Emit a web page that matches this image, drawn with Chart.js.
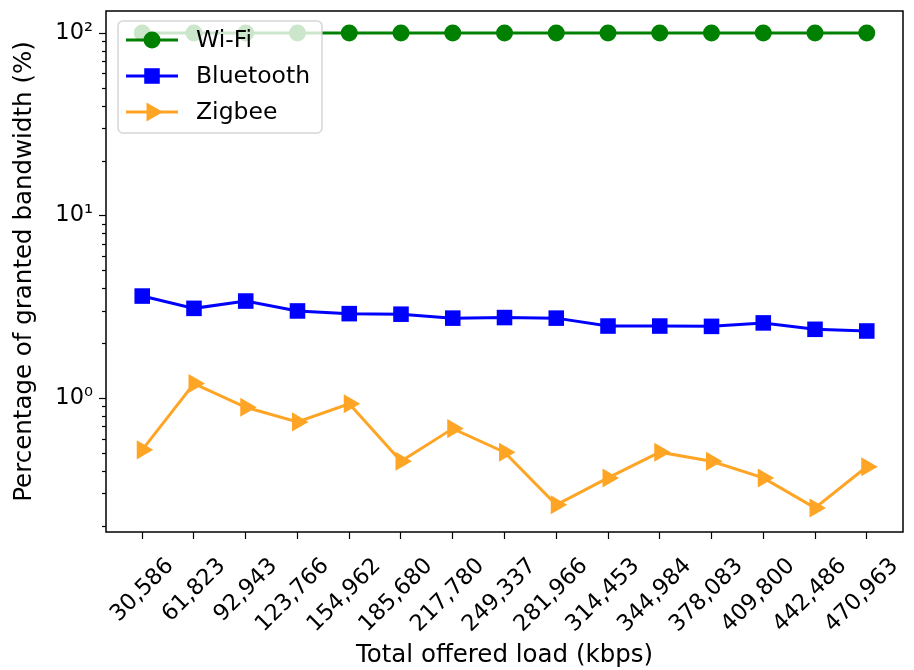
<!DOCTYPE html>
<html>
<head>
<meta charset="utf-8">
<script src="https://cdn.jsdelivr.net/npm/chart.js@4.4.0/dist/chart.umd.min.js"></script>
<style>
  html, body { margin: 0; padding: 0; background: #fff; }
</style>
</head>
<body>
<canvas id="chart" width="914" height="670"></canvas>
<script>
// data
var loadLabels = ['30,586', '61,823', '92,943', '123,766', '154,962', '185,680', '217,780', '249,337',
                  '281,966', '314,453', '344,984', '378,083', '409,800', '442,486', '470,963'];
var wifiValues = [100, 100, 100, 100, 100, 100, 100, 100, 100, 100, 100, 100, 100, 100, 100];
var bluetoothValues = [3.62, 3.1, 3.4, 3.0, 2.9, 2.88, 2.74, 2.76, 2.74, 2.48, 2.48, 2.47, 2.58, 2.38, 2.33];
var zigbeeValues = [0.52, 1.2, 0.89, 0.74, 0.93, 0.45, 0.68, 0.505, 0.26, 0.365, 0.505, 0.45, 0.365, 0.25, 0.42];
var seriesNames = ['Wi-Fi', 'Bluetooth', 'Zigbee'];
var yTickLabels = { 1: '10\u2070', 10: '10\u00b9', 100: '10\u00b2' };

var FONT = 'DejaVu Sans';
Chart.defaults.font.family = FONT;
Chart.defaults.font.size = 22;
Chart.defaults.color = '#000';

function toPoints(arr) {
    return arr.map(function (v, i) { return { x: i, y: v }; });
}

function isDecade(v) {
    var l = Math.log10(v);
    return Math.abs(l - Math.round(l)) < 1e-9;
}

var styles = [
    { color: '#008000', pointStyle: 'circle', radius: 8.5, rotation: 0 },
    { color: '#0000ff', pointStyle: 'rect', radius: 11, rotation: 0 },
    { color: '#ffa526', pointStyle: 'triangle', radius: 11, rotation: 90 }
];
var seriesValues = [wifiValues, bluetoothValues, zigbeeValues];

var datasets = seriesNames.map(function (name, i) {
    var s = styles[i];
    return {
        label: name,
        data: toPoints(seriesValues[i]),
        borderColor: s.color,
        backgroundColor: s.color,
        borderWidth: 3,
        pointStyle: s.pointStyle,
        pointRadius: s.radius,
        pointRotation: s.rotation,
        pointBackgroundColor: s.color,
        pointBorderColor: s.color,
        pointBorderWidth: 0,
        pointHoverRadius: s.radius,
        order: 3 - i,
        tension: 0
    };
});

// frame, minor ticks and the legend box inside the axes
var framePlugin = {
    id: 'frameAndLegend',
    afterDraw: function (chart) {
        var ctx = chart.ctx;
        var a = chart.chartArea;
        var ys = chart.scales.y;
        ctx.save();

        // minor ticks on log axis
        ctx.strokeStyle = '#000';
        ctx.lineWidth = 1.2;
        ys.ticks.forEach(function (t) {
            if (isDecade(t.value)) return;
            var py = Math.round(ys.getPixelForValue(t.value)) + 0.5;
            ctx.beginPath();
            ctx.moveTo(a.left - 4, py);
            ctx.lineTo(a.left, py);
            ctx.stroke();
        });

        // axes frame
        ctx.lineWidth = 1.5;
        ctx.strokeRect(a.left, a.top, a.right - a.left, a.bottom - a.top);

        // legend
        var lx = a.left + 12, ly = a.top + 10, lw = 204, lh = 112;
        ctx.beginPath();
        ctx.roundRect(lx, ly, lw, lh, 5);
        ctx.fillStyle = 'rgba(255,255,255,0.8)';
        ctx.fill();
        ctx.strokeStyle = 'rgba(204,204,204,0.8)';
        ctx.lineWidth = 1.5;
        ctx.stroke();

        ctx.font = '23.5px "' + FONT + '"';
        ctx.textBaseline = 'middle';
        ctx.textAlign = 'left';
        seriesNames.forEach(function (name, i) {
            var s = styles[i];
            var cy = ly + 19 + i * 36;
            ctx.strokeStyle = s.color;
            ctx.lineWidth = 3;
            ctx.beginPath();
            ctx.moveTo(lx + 8, cy);
            ctx.lineTo(lx + 60, cy);
            ctx.stroke();
            ctx.fillStyle = s.color;
            Chart.helpers.drawPoint(ctx, {
                pointStyle: s.pointStyle, radius: s.radius, rotation: s.rotation, borderWidth: 0
            }, lx + 34, cy);
            ctx.fillStyle = '#000';
            ctx.fillText(name, lx + 78, cy + 1);
        });
        ctx.restore();
    }
};

var chart = new Chart(document.getElementById('chart'), {
    type: 'line',
    data: { datasets: datasets },
    options: {
        responsive: false,
        animation: false,
        events: [],
        layout: { padding: { left: 0, top: 11, right: 5, bottom: 0 } },
        plugins: { legend: { display: false }, tooltip: { enabled: false } },
        scales: {
            x: {
                type: 'linear',
                min: -0.7,
                max: 14.7,
                afterBuildTicks: function (axis) {
                    axis.ticks = loadLabels.map(function (l, i) { return { value: i }; });
                },
                afterFit: function (axis) {
                    axis.height = 138;
                    axis.paddingLeft = 0;
                    axis.paddingRight = 0;
                },
                grid: { display: true, drawOnChartArea: false, tickLength: 7, tickColor: '#000', tickWidth: 1.2 },
                border: { display: false },
                ticks: {
                    autoSkip: false,
                    minRotation: 45,
                    maxRotation: 45,
                    labelOffset: 28,
                    padding: 14,
                    font: { size: 22.5 },
                    callback: function (v) { return loadLabels[v]; }
                },
                title: {
                    display: true,
                    text: 'Total offered load (kbps)',
                    font: { size: 24.5 },
                    padding: { top: 0, bottom: 0 }
                }
            },
            y: {
                type: 'logarithmic',
                min: 0.1845,
                max: 132,
                afterBuildTicks: function (axis) {
                    var t = [];
                    for (var d = -1; d <= 2; d++) {
                        for (var m = 1; m <= 9; m++) {
                            var v = m * Math.pow(10, d);
                            if (v >= axis.min && v <= axis.max) t.push({ value: v });
                        }
                    }
                    axis.ticks = t;
                },
                afterFit: function (axis) {
                    axis.width = 106;
                    axis.paddingTop = 0;
                    axis.paddingBottom = 0;
                },
                grid: {
                    display: true, drawOnChartArea: false, tickLength: 7, tickWidth: 1.2,
                    tickColor: function (c) { return c.tick && isDecade(c.tick.value) ? '#000' : 'rgba(0,0,0,0)'; }
                },
                border: { display: false },
                ticks: {
                    autoSkip: false,
                    padding: 6,
                    font: { size: 22.5 },
                    callback: function (v) {
                        for (var k in yTickLabels) {
                            if (Math.abs(v - Number(k)) < 1e-9) return yTickLabels[k];
                        }
                        return '';
                    }
                },
                title: {
                    display: true,
                    text: 'Percentage of granted bandwidth (%)',
                    font: { size: 24.5 },
                    padding: { top: 10, bottom: 0 }
                }
            }
        }
    },
    plugins: [framePlugin]
});
</script>
</body>
</html>
